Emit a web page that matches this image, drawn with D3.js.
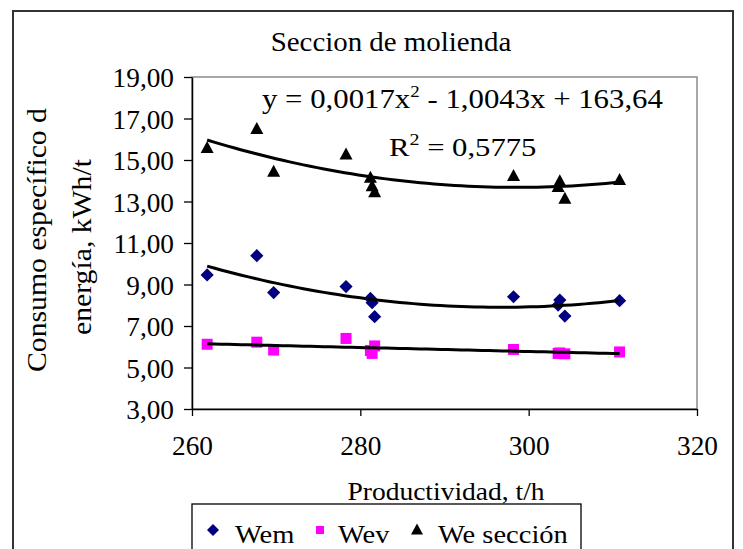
<!DOCTYPE html>
<html>
<head>
<meta charset="utf-8">
<script src="https://cdn.jsdelivr.net/npm/d3@7"></script>
<style>
  body { margin: 0; background: #fff; }
  svg { display: block; }
  text { font-family: "Liberation Serif", "Times New Roman", serif; fill: #000; }
</style>
</head>
<body>
<svg id="chart" width="743" height="549"></svg>
<script>
// Productividad (t/h) and specific energy consumption (kWh/t) per sample
const productividad = [261.8, 267.7, 269.7, 278.3, 281.2, 281.4, 281.7, 298.2, 303.5, 303.7, 304.3, 310.8];
const wem       = [9.46, 10.39, 8.61, 8.90, 8.33, 8.12, 7.45, 8.41, 8.01, 8.25, 7.48, 8.22];
const wev       = [6.12, 6.22, 5.84, 6.40, 5.82, 5.68, 6.04, 5.87, 5.68, 5.70, 5.66, 5.75];
const weSeccion = [15.57, 16.49, 14.42, 15.25, 14.13, 13.73, 13.44, 14.22, 13.69, 13.97, 13.12, 14.03];

const seriesNames = ["Wem", "Wev", "We sección"];
const xTicks = [260, 280, 300, 320];
const yTicks = [3, 5, 7, 9, 11, 13, 15, 17, 19];

// Quadratic trend for "We sección": y = a·x² + b·x + c
const weTrendCoef = [0.0016815, -1.0043, 163.64];
const weTrendR2 = 0.5775;

const svg = d3.select("#chart");
const W = 743, H = 549;
const plot = { left: 192, right: 697, top: 77, bottom: 409 };

const x = d3.scaleLinear().domain([260, 320]).range([plot.left, plot.right]);
const y = d3.scaleLinear().domain([3, 19]).range([plot.bottom, plot.top]);

const comma = s => s.replace(".", ",");
const fmt2 = v => comma(d3.format(".2f")(v));

// least-squares second order polynomial, centred for stability
function polyFit2(xs, ys) {
  const x0 = d3.mean(xs);
  const S = [0, 0, 0, 0, 0], T = [0, 0, 0];
  xs.forEach((xv, i) => {
    const u = xv - x0;
    let p = 1;
    for (let k = 0; k < 5; k++) {
      S[k] += p;
      if (k < 3) T[k] += p * ys[i];
      p *= u;
    }
  });
  const M = [[S[0], S[1], S[2]], [S[1], S[2], S[3]], [S[2], S[3], S[4]]];
  const det = m => m[0][0] * (m[1][1] * m[2][2] - m[1][2] * m[2][1])
                 - m[0][1] * (m[1][0] * m[2][2] - m[1][2] * m[2][0])
                 + m[0][2] * (m[1][0] * m[2][1] - m[1][1] * m[2][0]);
  const D = det(M);
  const c = [0, 1, 2].map(j => det(M.map((row, r) => row.map((v, k) => (k === j ? T[r] : v)))) / D);
  return xv => c[0] + c[1] * (xv - x0) + c[2] * (xv - x0) * (xv - x0);
}
const quad = ([a, b, c]) => xv => a * xv * xv + b * xv + c;

// chart area background + frame
svg.append("rect").attr("width", W).attr("height", H).attr("fill", "#fff");
svg.append("rect")
  .attr("x", 13).attr("y", 11).attr("width", 720).attr("height", 560)
  .attr("fill", "#fff").attr("stroke", "#333").attr("stroke-width", 2);

// text helper: horizontal stretch applied along the baseline
function label(g, tx, ty, size, sx, anchor, rot) {
  return g.append("text")
    .attr("transform", `translate(${tx},${ty})` + (rot ? ` rotate(${rot})` : "") + ` scale(${sx},1)`)
    .attr("text-anchor", anchor)
    .style("font-size", size + "px");
}

// title
label(svg, 391, 51, 27, 1.07, "middle").text("Seccion de molienda");

// plot area border (top / right in grey)
svg.append("rect")
  .attr("x", plot.left).attr("y", plot.top)
  .attr("width", plot.right - plot.left).attr("height", plot.bottom - plot.top)
  .attr("fill", "none").attr("stroke", "#8c8c8c").attr("stroke-width", 1.5);

// axes
const yAxis = svg.append("g").attr("transform", `translate(${plot.left},0)`)
  .call(d3.axisLeft(y).tickValues(yTicks).tickSizeInner(8).tickSizeOuter(0).tickFormat(fmt2));
const xAxis = svg.append("g").attr("transform", `translate(0,${plot.bottom})`)
  .call(d3.axisBottom(x).tickValues(xTicks).tickSizeInner(7).tickSizeOuter(0).tickFormat(d3.format("d")));

[yAxis, xAxis].forEach(a => {
  a.attr("font-size", null).attr("font-family", null);
  a.select(".domain").attr("stroke", "#000").attr("stroke-width", 1.5);
  a.selectAll(".tick line").attr("stroke", "#000").attr("stroke-width", 1.3);
  a.selectAll("text").attr("fill", "#000").style("font-size", "26.5px");
});
yAxis.selectAll(".tick text")
  .attr("x", null).attr("dy", null)
  .attr("transform", "translate(-18,9.5) scale(1.03,1)");
xAxis.selectAll(".tick text")
  .attr("y", null).attr("dy", null)
  .attr("transform", "translate(0,46) scale(1.03,1)");

// axis titles
label(svg, 446, 500, 25.5, 1.08, "middle").text("Productividad, t/h");
label(svg, 46, 240, 27, 1.1, "middle", -90).text("Consumo específico d");
label(svg, 91, 247, 27, 1.1, "middle", -90).text("energía, kWh/t");

// markers
const pts = d => productividad.map((p, i) => [p, d[i]]);
const diamond = s => `M0,${-s}L${s},0L0,${s}L${-s},0Z`;
const triangle = (w, h) => `M0,${-h * 0.6}L${w / 2},${h * 0.4}L${-w / 2},${h * 0.4}Z`;

const marks = svg.append("g");
marks.selectAll(".wem").data(pts(wem)).join("path")
  .attr("class", "wem")
  .attr("transform", d => `translate(${x(d[0])},${y(d[1])})`)
  .attr("d", diamond(6.6)).attr("fill", "#000080");
marks.selectAll(".wev").data(pts(wev)).join("rect")
  .attr("class", "wev")
  .attr("x", d => x(d[0]) - 5.5).attr("y", d => y(d[1]) - 5.5)
  .attr("width", 11).attr("height", 11).attr("fill", "#ff00ff");
marks.selectAll(".we").data(pts(weSeccion)).join("path")
  .attr("class", "we")
  .attr("transform", d => `translate(${x(d[0])},${y(d[1])})`)
  .attr("d", triangle(13, 12)).attr("fill", "#000");

// polynomial trend lines
const xMin = d3.min(productividad), xMax = d3.max(productividad);
const xs = d3.range(0, 61).map(i => xMin + (xMax - xMin) * i / 60);
const line = d3.line().x(d => x(d[0])).y(d => y(d[1]));
const trends = [polyFit2(productividad, wem), polyFit2(productividad, wev), quad(weTrendCoef)];
svg.append("g").selectAll("path").data(trends).join("path")
  .attr("d", f => line(xs.map(v => [v, f(v)])))
  .attr("fill", "none").attr("stroke", "#000").attr("stroke-width", 3)
  .attr("stroke-linejoin", "round");

// trend equation and R²
const [a, b, c] = weTrendCoef;
const eq = label(svg, 262, 108, 27.5, 1.12, "start");
eq.append("tspan").text(`y = ${comma(a.toFixed(4))}x`);
eq.append("tspan").attr("dy", -11).style("font-size", "17px").text("2");
eq.append("tspan").attr("dy", 11)
  .text(` ${b < 0 ? "-" : "+"} ${comma(Math.abs(b).toFixed(4))}x ${c < 0 ? "-" : "+"} ${comma(Math.abs(c).toFixed(2))}`);

const r2t = label(svg, 389, 156, 26, 1.18, "start");
r2t.append("tspan").text("R");
r2t.append("tspan").attr("dy", -11).style("font-size", "17px").text("2");
r2t.append("tspan").attr("dy", 11).text(` = ${comma(weTrendR2.toFixed(4))}`);

// legend
const lg = svg.append("g");
lg.append("rect").attr("x", 192).attr("y", 504).attr("width", 389).attr("height", 60)
  .attr("fill", "#fff").attr("stroke", "#000").attr("stroke-width", 1.3);
const legendItems = [
  { name: seriesNames[0], mx: 213, tx: 235, draw: g => g.append("path").attr("d", diamond(6)).attr("fill", "#000080") },
  { name: seriesNames[1], mx: 320, tx: 338, draw: g => g.append("rect").attr("x", -4).attr("y", -4).attr("width", 8).attr("height", 8).attr("fill", "#ff00ff") },
  { name: seriesNames[2], mx: 417, tx: 438, draw: g => g.append("path").attr("d", triangle(12, 11)).attr("fill", "#000") }
];
legendItems.forEach(it => {
  it.draw(lg.append("g").attr("transform", `translate(${it.mx},530)`));
  label(lg, it.tx, 543, 25, 1.14, "start").text(it.name);
});
</script>
</body>
</html>
